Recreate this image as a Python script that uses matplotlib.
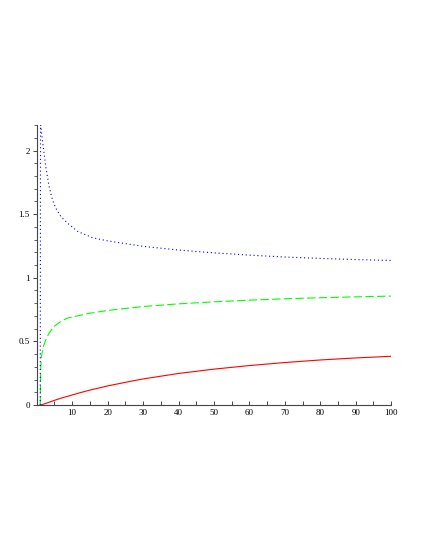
import matplotlib
matplotlib.use("Agg")
import matplotlib.pyplot as plt
from matplotlib.ticker import MultipleLocator, FixedLocator

# values
red_x = [1.0, 2.5, 4.7, 7, 9.4, 12, 15.1, 20, 26.4, 30, 40, 50, 60, 70, 80, 90, 100]
red_y = [0.0, 0.012, 0.034, 0.055, 0.074, 0.095, 0.118, 0.15, 0.186, 0.205, 0.248, 0.282,
         0.31, 0.334, 0.354, 0.37, 0.383]

green_x = [1.0, 1.12, 1.31, 1.87, 2.53, 3.47, 4.89, 6.77, 8.65, 13.4, 15.1, 20, 30, 40, 50,
           60, 70, 80, 90, 100]
green_y = [0.0, 0.276, 0.38, 0.46, 0.51, 0.565, 0.617, 0.656, 0.683, 0.712, 0.722, 0.743,
           0.774, 0.795, 0.811, 0.824, 0.835, 0.843, 0.85, 0.856]

blue_x = [1.0, 1.08, 1.12, 1.59, 2.06, 2.53, 3.0, 3.47, 4.42, 5.36, 6.77, 8.65, 11.5, 15.7,
          20, 30, 40, 50, 60, 70, 80, 90, 100]
blue_y = [0.0, 2.4, 2.2, 2.087, 1.98, 1.876, 1.798, 1.72, 1.614, 1.548, 1.483, 1.43, 1.365,
          1.315, 1.29, 1.247, 1.218, 1.196, 1.178, 1.163, 1.152, 1.143, 1.136]

xticks = [10, 20, 30, 40, 50, 60, 70, 80, 90, 100]
yticks = [0, 0.5, 1, 1.5, 2]
ylabels = ["0", "0.5", "1", "1.5", "2"]

fig = plt.figure(figsize=(4.25, 5.5), dpi=100)
ax = fig.add_axes([0.0864, 0.2636, 0.834, 0.509])

ax.plot(red_x, red_y, color="#ff0000", lw=0.8)
ax.plot(green_x, green_y, color="#00ff00", lw=0.8, linestyle=(0, (7.5, 3)))
ax.plot(blue_x, blue_y, color="#0000ff", lw=0.8, linestyle=(0, (1, 2.5)))

ax.set_xlim(0, 100)
ax.set_ylim(0, 2.2)

for s in ["top", "right"]:
    ax.spines[s].set_visible(False)
for s in ["left", "bottom"]:
    ax.spines[s].set_color("#444444")
    ax.spines[s].set_linewidth(0.8)

ax.xaxis.set_major_locator(FixedLocator(xticks))
ax.xaxis.set_minor_locator(FixedLocator([5, 15, 25, 35, 45, 55, 65, 75, 85, 95]))
ax.set_xticklabels([str(t) for t in xticks])
ax.set_yticks(yticks)
ax.set_yticklabels(ylabels)
ax.yaxis.set_minor_locator(MultipleLocator(0.1))

ax.tick_params(axis="x", which="both", direction="in", length=3, width=0.7,
               color="#444444", pad=3)
ax.tick_params(axis="y", which="major", direction="out", length=3, width=0.7,
               color="#444444", pad=2)
ax.tick_params(axis="y", which="minor", direction="out", length=2, width=0.6,
               color="#444444")
for lab in ax.get_xticklabels() + ax.get_yticklabels():
    lab.set_fontfamily("Liberation Serif")
    lab.set_fontsize(6.5)

fig.savefig("out.png", dpi=100)
